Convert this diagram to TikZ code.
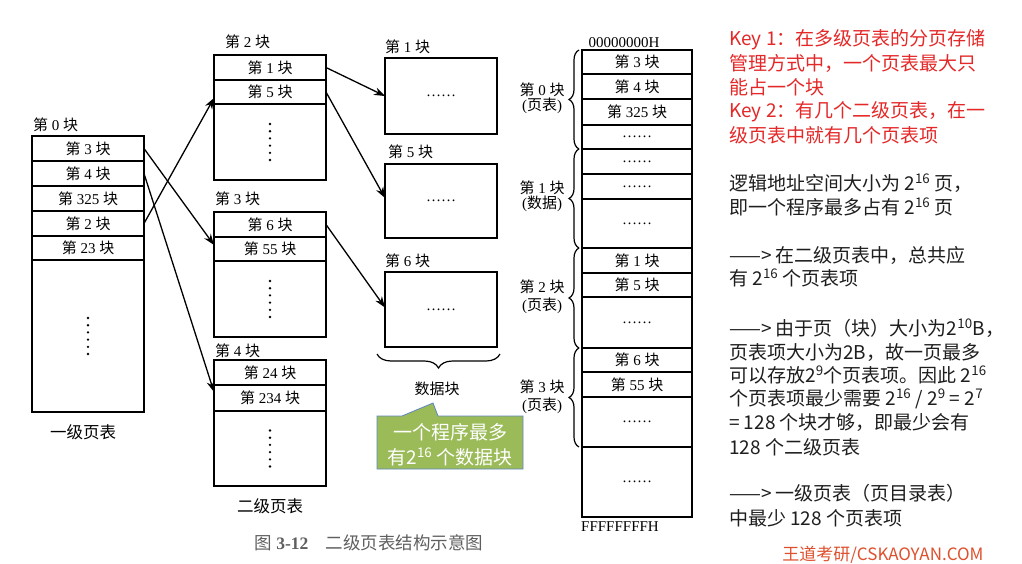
\documentclass[tikz,border=0pt]{standalone}
\usepackage{fontspec}
\setmainfont{Liberation Serif}
\newfontfamily\cjk{Noto Sans CJK SC}
\usetikzlibrary{arrows.meta,decorations.pathreplacing}
\newcommand\figf{\fontsize{15}{15}\selectfont}
\newcommand\txtf{\fontsize{19}{22}\selectfont\cjk}
\newcommand\blk[1]{{\cjk 第}~#1~{\cjk 块}}
\newcommand\mydots[1]{\foreach \k in {0,...,5}{\fill ([yshift={(2.5-\k)*7.2pt}]#1.center) circle (1.3pt);}}
\definecolor{keyred}{RGB}{228,40,40}
\definecolor{wmred}{RGB}{222,80,45}
\definecolor{callg}{RGB}{155,187,89}
\definecolor{callb}{RGB}{95,135,190}
\definecolor{capgray}{RGB}{95,95,95}
\definecolor{txtblk}{RGB}{30,30,30}
\begin{document}
\begin{tikzpicture}[x=1pt,y=-1pt,
  cell/.style={draw, line width=1.3pt, inner sep=0pt, outer sep=0pt, font=\figf},
  c112/.style={cell, minimum width=112pt},
  c110/.style={cell, minimum width=110pt},
  lbl/.style={font=\figf, inner sep=0pt, anchor=west},
  big/.style={font=\fontsize{16.5}{18}\selectfont\cjk, inner sep=0pt},
  arr/.style={-{Stealth[length=11pt,width=8pt]}, line width=1.3pt},
  brc/.style={decorate, decoration={brace, amplitude=#1}, line width=1.2pt},
  rt/.style={font=\txtf, anchor=base west, inner sep=0pt, text=txtblk},
  rk/.style={rt, text=keyred}]
\useasboundingbox (0,0) rectangle (1022,563);
\fill[white] (0,0) rectangle (1022,563);

% ---------- first-level table ----------
\node[lbl] (lab0) at (33,125) {\blk{0}};
\node[c112, minimum height=25pt] (L0) at (88,148.5) {\blk{3}};
\node[c112, minimum height=25pt] (L1) at (88,173.5) {\blk{4}};
\node[c112, minimum height=25pt] (L2) at (88,198.5) {\blk{325}};
\node[c112, minimum height=25pt] (L3) at (88,223.5) {\blk{2}};
\node[c112, minimum height=24pt] (L4) at (88,248) {\blk{23}};
\node[c112, minimum height=152pt] (L5) at (88,336) {};
\mydots{L5}
\node[big] (lvl1) at (83,432) {一级页表};

% ---------- second-level tables ----------
\node[lbl] (lab2) at (225,42) {\blk{2}};
\node[c112, minimum height=25pt] (A1) at (270,67.5) {\blk{1}};
\node[c112, minimum height=24pt] (A2) at (270,92) {\blk{5}};
\node[c112, minimum height=76pt] (A3) at (270,142) {};
\mydots{A3}

\node[lbl] (lab3) at (215,199) {\blk{3}};
\node[c112, minimum height=25pt] (B1) at (270,224.5) {\blk{6}};
\node[c112, minimum height=24pt] (B2) at (270,249) {\blk{55}};
\node[c112, minimum height=76pt] (B3) at (270,299) {};
\mydots{B3}

\node[lbl] (lab4) at (215,351) {\blk{4}};
\node[c112, minimum height=25pt] (C1) at (270,372.5) {\blk{24}};
\node[c112, minimum height=26pt] (C2) at (270,398) {\blk{234}};
\node[c112, minimum height=75pt] (C3) at (270,448.5) {};
\mydots{C3}
\node[big] (lvl2) at (270,506) {二级页表};

% ---------- data blocks ----------
\node[lbl] (labd1) at (385,47) {\blk{1}};
\node[c112, minimum height=76pt] (D1) at (441,96) {……};
\node[lbl] (labd5) at (388,152) {\blk{5}};
\node[c112, minimum height=74pt] (D5) at (441,201) {……};
\node[lbl] (labd6) at (385,261) {\blk{6}};
\node[c112, minimum height=75pt] (D6) at (441,309.5) {……};
\coordinate (dbr1) at (500,354);
\coordinate (dbr2) at (377,354);
\draw[brc=14pt] (dbr1) -- (dbr2);
\node[font=\fontsize{15}{16}\selectfont\cjk, inner sep=0pt] (dblab) at (437,389) {数据块};

% callout
\fill[callg, draw=callb, line width=0.8pt] (377,416) -- (402,416) -- (433,403) -- (438,416) -- (523,416) -- (523,469) -- (377,469) -- cycle;
\node[font=\fontsize{19}{25}\selectfont\cjk, text=white, align=center, inner sep=0pt] (call) at (450,444.5) {一个程序最多\\有2\textsuperscript{16} 个数据块};

% ---------- arrows ----------
\draw[arr] (L0.east) -- ([yshift=4pt]B2.west);
\draw[arr] (L1.east) -- ([yshift=6pt]C2.west);
\draw[arr] (L3.east) -- ([yshift=-6pt]A2.west);
\draw[arr] (A1.east) -- (D1.west);
\draw[arr] (A2.east) -- ([yshift=3pt]D5.west);
\draw[arr] (B1.east) -- ([yshift=2pt]D6.west);

% ---------- memory column ----------
\node[font=\fontsize{15}{15}\selectfont, inner sep=0pt] (top) at (624,43) {00000000H};
\node[c110, minimum height=24pt] (M1) at (637,62) {\blk{3}};
\node[c110, minimum height=25pt] (M2) at (637,86.5) {\blk{4}};
\node[c110, minimum height=26pt] (M3) at (637,112) {\blk{325}};
\node[c110, minimum height=24pt] (M4) at (637,137) {……};
\node[c110, minimum height=25pt] (M5) at (637,161.5) {……};
\node[c110, minimum height=25pt] (M6) at (637,186.5) {……};
\node[c110, minimum height=49pt] (M7) at (637,223.5) {……};
\node[c110, minimum height=25pt] (M8) at (637,260.5) {\blk{1}};
\node[c110, minimum height=24pt] (M9) at (637,285) {\blk{5}};
\node[c110, minimum height=51pt] (M10) at (637,322.5) {……};
\node[c110, minimum height=24pt] (M11) at (637,360) {\blk{6}};
\node[c110, minimum height=25pt] (M12) at (637,384.5) {\blk{55}};
\node[c110, minimum height=50pt] (M13) at (637,422) {……};
\node[c110, minimum height=70pt] (M14) at (637,482) {……};
\node[font=\fontsize{15}{15}\selectfont, inner sep=0pt] (bot) at (620,527) {FFFFFFFFH};

\draw[brc=10pt] ([xshift=-3pt]M4.south west) -- ([xshift=-3pt]M1.north west);
\draw[brc=10pt] ([xshift=-3pt]M7.south west) -- ([xshift=-3pt]M5.north west);
\draw[brc=10pt] ([xshift=-3pt]M10.south west) -- ([xshift=-3pt]M8.north west);
\draw[brc=10pt] ([xshift=-3pt]M13.south west) -- ([xshift=-3pt]M11.north west);
\node[font=\figf, align=center, inner sep=0pt] (bl0) at (542,98.5) {\blk{0}\\({\cjk 页表})};
\node[font=\figf, align=center, inner sep=0pt] (bl1) at (542,196.5) {\blk{1}\\({\cjk 数据})};
\node[font=\figf, align=center, inner sep=0pt] (bl2) at (542,297) {\blk{2}\\[3pt]({\cjk 页表})};
\node[font=\figf, align=center, inner sep=0pt] (bl3) at (542,397) {\blk{3}\\[3pt]({\cjk 页表})};

% ---------- caption ----------
\node[font=\fontsize{17.5}{19}\selectfont, text=capgray, inner sep=0pt] (cap) at (369,543) {{\cjk 图}~\textbf{3-12}\quad{\cjk 二级页表结构示意图}};

% ---------- right text ----------
\node[rk] (t1) at (729,45) {Key 1：在多级页表的分页存储};
\node[rk] (t2) at (729,70) {管理方式中，一个页表最大只};
\node[rk] (t3) at (729,94) {能占一个块};
\node[rk] (t4) at (729,117) {Key 2：有几个二级页表，在一};
\node[rk] (t5) at (729,142) {级页表中就有几个页表项};
\node[rt] (t6) at (729,190) {逻辑地址空间大小为 2\textsuperscript{16} 页，};
\node[rt] (t7) at (729,214) {即一个程序最多占有 2\textsuperscript{16} 页};
\node[rt] (t8) at (729,262) {——> 在二级页表中，总共应};
\node[rt] (t9) at (729,285) {有 2\textsuperscript{16} 个页表项};
\node[rt] (t10) at (729,335) {——> 由于页（块）大小为2\textsuperscript{10}B，};
\node[rt] (t11) at (729,359) {页表项大小为2B，故一页最多};
\node[rt] (t12) at (729,382) {可以存放2\textsuperscript{9}个页表项。因此 2\textsuperscript{16}};
\node[rt] (t13) at (729,405) {个页表项最少需要 2\textsuperscript{16} / 2\textsuperscript{9} = 2\textsuperscript{7}};
\node[rt] (t14) at (729,429) {= 128 个块才够，即最少会有};
\node[rt] (t15) at (729,454) {128 个二级页表};
\node[rt] (t16) at (729,500) {——> 一级页表（页目录表）};
\node[rt] (t17) at (729,525) {中最少 128 个页表项};
\node[font=\fontsize{17}{19}\selectfont\cjk, text=wmred, inner sep=0pt] (wm) at (883,555) {王道考研/CSKAOYAN.COM};
\end{tikzpicture}
\end{document}
